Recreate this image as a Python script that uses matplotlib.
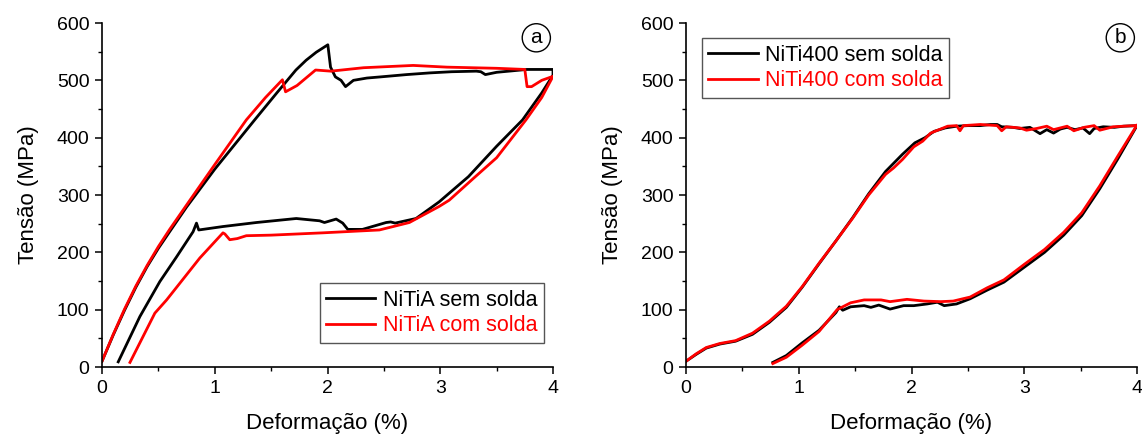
import matplotlib
matplotlib.use('Agg')
import matplotlib.pyplot as plt
from matplotlib.ticker import MultipleLocator

plt.rcParams['font.family'] = ['Liberation Sans', 'DejaVu Sans']

# panel a - NiTiA
a_sem_x = [0.0, 0.1, 0.2, 0.3, 0.4, 0.5, 0.6, 0.75, 1.0, 1.354, 1.55, 1.72, 1.81, 1.9, 2.003,
           2.027, 2.07, 2.12, 2.16, 2.23, 2.35, 2.47, 2.7, 2.91, 3.1, 3.32, 3.36, 3.40, 3.5, 3.77, 4.0,
           4.0, 3.9, 3.73, 3.5, 3.25, 2.99, 2.785, 2.60, 2.56, 2.52, 2.31, 2.18, 2.135, 2.077, 1.973,
           1.93, 1.723, 1.369, 1.073, 0.858, 0.838, 0.808, 0.661, 0.513, 0.336, 0.144]
a_sem_y = [10, 56, 99, 139, 175, 207, 236, 279, 345, 431, 478, 518, 535, 549, 562,
           523, 506, 500, 489, 500, 504, 506, 510, 513, 515, 516, 515, 510, 514, 519, 519,
           509, 478, 431, 385, 332, 288, 259, 251, 253, 252, 240, 240, 251, 258, 252,
           255, 259, 252, 245, 239, 251, 236, 192, 149, 88, 9]

a_com_x = [0.0, 0.1, 0.2, 0.3, 0.4, 0.5, 0.6, 0.78, 1.0, 1.28, 1.45, 1.6, 1.628, 1.73, 1.894,
           2.03, 2.32, 2.76, 3.06, 3.5, 3.75, 3.77, 3.81, 3.90, 4.0,
           3.9, 3.76, 3.5, 3.3, 3.08, 2.99, 2.726, 2.46, 1.958, 1.5, 1.28, 1.2, 1.133, 1.09, 1.073,
           0.867, 0.573, 0.469, 0.248]
a_com_y = [10, 57, 101, 141, 177, 210, 240, 291, 353, 431, 470, 501, 480, 491, 518,
           516, 522, 526, 523, 521, 519, 489, 489, 500, 507,
           470, 431, 365, 330, 291, 280, 252, 239, 234, 230, 229, 224, 222, 232, 234,
           190, 117, 94, 8]

# panel b - NiTi400
b_sem_x = [0.0, 0.09, 0.18, 0.3, 0.44, 0.59, 0.74, 0.89, 1.03, 1.18, 1.33, 1.48, 1.62, 1.77, 1.92,
           2.03, 2.08, 2.12, 2.2, 2.3, 2.4, 2.5, 2.61, 2.7, 2.76, 2.8, 2.9, 2.96, 3.05, 3.14, 3.2,
           3.26, 3.32, 3.38, 3.45, 3.52, 3.58, 3.62, 3.7, 3.8, 3.88, 4.0,
           3.83, 3.67, 3.51, 3.35, 3.18, 3.0, 2.82, 2.67, 2.52, 2.40, 2.29, 2.23, 2.14, 2.02, 1.93,
           1.81, 1.71, 1.64, 1.58, 1.46, 1.39, 1.36, 1.33, 1.18, 1.03, 0.89, 0.77]
b_sem_y = [10, 22, 33, 40, 45, 57, 78, 104, 139, 180, 220, 261, 302, 341, 371,
           391, 396, 400, 411, 417, 420, 421, 421, 423, 423, 419, 418, 416, 418, 407, 414,
           408, 415, 418, 414, 417, 407, 416, 419, 418, 420, 421,
           363, 311, 264, 230, 200, 174, 148, 134, 119, 110, 107, 113, 110, 107, 107,
           101, 108, 104, 107, 105, 99, 105, 95, 64, 42, 20, 8]

b_com_x = [0.0, 0.09, 0.18, 0.3, 0.44, 0.59, 0.74, 0.89, 1.03, 1.18, 1.33, 1.48, 1.62, 1.77, 1.84,
           1.92, 2.02, 2.1, 2.17, 2.32, 2.40, 2.43, 2.46, 2.61, 2.76, 2.80, 2.84, 2.96, 3.02, 3.11,
           3.20, 3.26, 3.38, 3.44, 3.53, 3.62, 3.67, 3.79, 3.88, 3.98, 4.0,
           3.83, 3.67, 3.51, 3.35, 3.18, 3.0, 2.82, 2.67, 2.52, 2.37, 2.26, 2.11, 1.96, 1.81, 1.73,
           1.58, 1.46, 1.37, 1.34, 1.18, 1.03, 0.89, 0.77]
b_com_y = [10, 23, 34, 41, 46, 59, 80, 106, 140, 181, 220, 260, 300, 336, 347,
           362, 384, 394, 408, 420, 421, 412, 421, 423, 421, 412, 419, 417, 413, 416,
           420, 414, 420, 412, 418, 421, 413, 419, 420, 421, 422,
           368, 316, 269, 235, 205, 179, 152, 138, 122, 115, 114, 115, 118, 114, 117,
           117, 112, 103, 100, 62, 38, 17, 6]

panels = [
    (a_sem_x, a_sem_y, 'NiTiA sem solda', a_com_x, a_com_y, 'NiTiA com solda', 'a'),
    (b_sem_x, b_sem_y, 'NiTi400 sem solda', b_com_x, b_com_y, 'NiTi400 com solda', 'b'),
]

fig = plt.figure(figsize=(11.42, 4.36), dpi=100)
lefts = [102 / 1142, 686 / 1142]
axes = []
for left in lefts:
    axes.append(fig.add_axes([left, 69 / 436, 451 / 1142, 344 / 436]))

for i, ax in enumerate(axes):
    sx, sy, sl, cx, cy, cl, tag = panels[i]
    ax.plot(sx, sy, color='black', lw=2.0, label=sl)
    ax.plot(cx, cy, color='#ff0000', lw=2.0, label=cl)
    ax.set_xlim(0, 4)
    ax.set_ylim(0, 600)
    ax.xaxis.set_major_locator(MultipleLocator(1))
    ax.xaxis.set_minor_locator(MultipleLocator(0.5))
    ax.yaxis.set_major_locator(MultipleLocator(100))
    ax.yaxis.set_minor_locator(MultipleLocator(50))
    ax.spines['top'].set_visible(False)
    ax.spines['right'].set_visible(False)
    for s in ['left', 'bottom']:
        ax.spines[s].set_linewidth(1.2)
    ax.tick_params(which='major', direction='out', length=5, width=1.1, labelsize=14, pad=4)
    ax.tick_params(which='minor', direction='out', length=3, width=1.0)
    ax.set_xlabel('Deformação (%)', fontsize=16, labelpad=12)
    ax.set_ylabel('Tensão (MPa)', fontsize=16, labelpad=13)
    ax.text(0.963, 0.957, tag, transform=ax.transAxes, fontsize=15, ha='center', va='center',
            bbox=dict(boxstyle='circle,pad=0.22', fc='white', ec='black', lw=1.0))
    opts = dict(borderaxespad=0, fontsize=15.5, handlelength=2.3, handletextpad=0.35,
                borderpad=0.3, labelspacing=0.22, fancybox=False, edgecolor='#555555', framealpha=1)
    if i == 0:
        leg = ax.legend(loc='lower right', bbox_to_anchor=(0.98, 0.07), **opts)
    else:
        leg = ax.legend(loc='upper left', bbox_to_anchor=(0.035, 0.956), **opts)
    leg.get_frame().set_linewidth(1.0)
    for t, c in zip(leg.get_texts(), ['black', '#ff0000']):
        t.set_color(c)

fig.savefig('out.png', dpi=100)
